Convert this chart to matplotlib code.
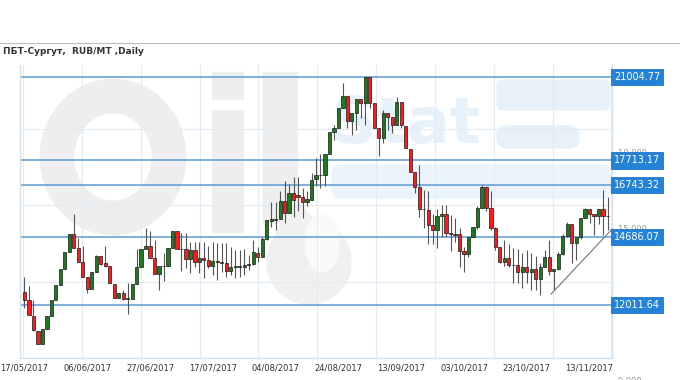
import numpy as np
import matplotlib
matplotlib.use("Agg")
import matplotlib.pyplot as plt
import matplotlib.transforms as mtransforms
from matplotlib.patches import Ellipse, Rectangle, FancyBboxPatch, Polygon

# daily candles, RUB/MT, 17/05/2017 .. 17/11/2017
opens = [12513, 12223, 11591, 10998, 10485, 11064, 11591, 12223, 12802, 13435,
         14119, 14804, 14264, 13711, 13105, 12644, 13303, 13935, 13672, 13566,
         12855, 12276, 12487, 12263, 12263, 12855, 13514, 14225, 14357, 13869,
         13250, 13540, 13566, 14264, 14949, 14238, 14208, 13830, 14198, 13725,
         13880, 13780, 13540, 13750, 13690, 13680, 13366, 13524, 13550, 13524,
         13603, 13610, 14076, 13918, 14602, 15338, 15391, 15391, 16127, 15654,
         16442, 16350, 16285, 16087, 16153, 16968, 17139, 17139, 17954, 18848,
         19006, 19795, 20255, 19282, 19571, 20124, 19966, 20991, 19966, 18980,
         18585, 19571, 19440, 19111, 20032, 19072, 18152, 17271, 16668, 15800,
         15774, 15182, 14984, 15537, 15603, 14853, 14814, 14814, 14156, 14025,
         14696, 15090, 15839, 16654, 15839, 15050, 14288, 13710, 13867, 13578,
         13578, 13315, 13512, 13302, 13447, 13039, 13512, 13907, 13341, 13433,
         14038, 14748, 15221, 14459, 14696, 15445, 15800, 15603, 15537, 15800,
         15537]
highs = [13119, 12750, 12223, 10998, 11064, 11591, 12223, 12802, 13435, 14119,
         14804, 15581, 14659, 14357, 13105, 13303, 14000, 13935, 14330, 13566,
         12855, 12487, 12600, 12882, 12855, 14225, 14225, 15055, 14923, 14567,
         13540, 14067, 14264, 14949, 14949, 14857, 14840, 14510, 14510, 14510,
         14510, 14339, 14510, 14444, 14444, 14444, 14300, 14181, 14181, 14208,
         14000, 14575, 14300, 14700, 15364, 16087, 16087, 16500, 16916, 16784,
         17073, 17073, 16613, 16500, 17200, 17797, 17954, 17954, 18848, 19100,
         19800, 20781, 20255, 19571, 20124, 20124, 20991, 20991, 19966, 18980,
         19700, 19571, 19440, 20229, 20032, 19072, 18152, 17271, 17548, 16562,
         16497, 15600, 15800, 15971, 15971, 15576, 15445, 15050, 14300, 14696,
         15090, 15900, 16760, 16700, 16497, 15100, 14300, 14590, 14400, 14262,
         14222, 14050, 14200, 14050, 13933, 13670, 14196, 14590, 13433, 14100,
         14800, 15300, 15221, 14696, 15445, 15850, 15800, 15603, 15800, 16547,
         16284]
lows = [11894, 11600, 11000, 10458, 10485, 11064, 11591, 12223, 12802, 13435,
        14119, 14264, 13711, 13105, 12500, 12644, 13303, 13600, 13500, 12882,
        12276, 12276, 12200, 11670, 12263, 12855, 13514, 14225, 13869, 13250,
        12592, 12947, 13540, 14264, 14238, 13343, 13458, 13261, 13500, 13261,
        13064, 13458, 13195, 12998, 13300, 13100, 13195, 13064, 13100, 13200,
        13400, 13600, 13700, 13918, 14575, 15100, 14970, 15391, 15259, 15654,
        15496, 15700, 15430, 15900, 16153, 16700, 16613, 16700, 17954, 18500,
        19006, 19795, 19000, 18700, 18900, 19400, 19111, 19800, 18980, 17900,
        18400, 18900, 18800, 19111, 19000, 18191, 17271, 16431, 15500, 15050,
        14400, 14420, 14262, 14700, 14700, 14130, 14500, 13500, 13302, 13900,
        14696, 15000, 15839, 15700, 14950, 14200, 13650, 13565, 13500, 12881,
        12881, 12700, 12881, 12618, 12618, 12421, 13512, 13200, 12618, 13400,
        14000, 14700, 13655, 13775, 14600, 15445, 15233, 14773, 15200, 14772,
        14970]
closes = [12223, 11617, 11011, 10485, 11064, 11591, 12223, 12802, 13435, 14119,
          14804, 14264, 13711, 13105, 12644, 13303, 13935, 13645, 13540, 12882,
          12276, 12487, 12249, 12289, 12855, 13514, 14225, 14357, 13869, 13250,
          13540, 13566, 14264, 14949, 14238, 14208, 13830, 14198, 13725, 13880,
          13800, 13540, 13750, 13690, 13680, 13366, 13524, 13530, 13524, 13603,
          13610, 14115, 13918, 14602, 15364, 15391, 15380, 16127, 15654, 16442,
          16153, 16285, 16087, 16180, 16942, 17139, 17130, 17954, 18848, 19006,
          19795, 20255, 19282, 19571, 20124, 19966, 20991, 19966, 18980, 18585,
          19571, 19440, 19111, 20032, 19111, 18191, 17271, 16679, 15800, 15780,
          15182, 14984, 15537, 15603, 14853, 14814, 14787, 14156, 14025, 14696,
          15090, 15839, 16654, 15839, 15050, 14288, 13710, 13867, 13578, 13570,
          13315, 13512, 13302, 13447, 13039, 13512, 13907, 13341, 13433, 14038,
          14748, 15221, 14459, 14696, 15445, 15800, 15603, 15537, 15800, 15537,
          15522]

date_labels = ["17/05/2017", "06/06/2017", "27/06/2017", "17/07/2017", "04/08/2017",
               "24/08/2017", "13/09/2017", "03/10/2017", "23/10/2017", "13/11/2017"]
label_step = 14

levels = [21004.77, 17713.17, 16743.32, 14686.07, 12011.64]
price_ticks = [9000, 12000, 15000, 18000, 21000]

trend_x = [117.4, 131.0]
trend_y = [12440, 15000]

title = "ПБТ-Сургут,  RUB/MT ,Daily"

opens = np.array(opens, float)
closes = np.array(closes, float)
highs = np.array(highs, float)
lows = np.array(lows, float)
idx = np.arange(len(opens))

fig = plt.figure(figsize=(6.8, 3.8), dpi=100)
fig.patch.set_facecolor("white")

# background layer in pixel coordinates: watermark, title
bg = fig.add_axes([0, 0, 1, 1], zorder=0)
bg.set_xlim(0, 680)
bg.set_ylim(380, 0)
bg.axis("off")

wm = "#eeeeee"
bg.add_patch(Ellipse((113, 157), 112, 122, fill=False, ec=wm, lw=25))
bg.add_patch(Rectangle((212, 72), 31, 27, color=wm))
bg.add_patch(Rectangle((212, 110), 31, 122, color=wm))
bg.add_patch(Rectangle((263, 72), 34, 150, color=wm))
# oil drop under the "l"
bg.add_patch(Polygon([(267, 258), (292, 196), (350, 258)], closed=True, color="#f0f0f0"))
bg.add_patch(Ellipse((309, 262), 84, 84, color="#f0f0f0"))
bg.add_patch(Ellipse((322, 243), 34, 58, color="#fafafa"))
bg.text(330, 143, "Stat", fontsize=46, fontweight="bold", color="#e7f1fa", va="baseline")
bg.add_patch(FancyBboxPatch((497, 80), 113, 30, boxstyle="round,pad=0,rounding_size=6", color="#e7f1fa"))
bg.add_patch(FancyBboxPatch((497, 126), 82, 22, boxstyle="round,pad=0,rounding_size=10", color="#e7f1fa"))
bg.add_patch(FancyBboxPatch((332, 165), 280, 33, boxstyle="round,pad=0,rounding_size=10", color="#ebf4fb"))

bg.plot([0, 680], [43, 43], color="#bdbdbd", lw=0.8)
bg.text(3, 51, title, fontsize=6.5, fontweight="bold", color="#333333", va="center", ha="left")

# chart
ax = fig.add_axes([20 / 680, 22 / 380, 592 / 680, 293 / 380], zorder=1)
ax.patch.set_alpha(0)
ax.set_xlim(-1.0, 131.0)
ax.set_ylim(9921, 21477)

grid_c = "#e2ecf6"
for k in range(11):
    ax.axvline(-0.33 + 13.12 * k, color=grid_c, lw=0.8, zorder=1)
for gy in (12920, 15950, 18960):
    ax.axhline(gy, color=grid_c, lw=0.8, zorder=1)

for v in levels:
    ax.axhline(v, color="#5b9bd5", lw=1.1, zorder=2)

up = closes >= opens
ax.vlines(idx, lows, highs, color="#555555", lw=0.8, zorder=3)
ax.bar(idx, np.abs(closes - opens), bottom=np.minimum(opens, closes), width=0.72,
       color=np.where(up, "#1f7a1f", "#ff1a1a"), edgecolor="#1a1a1a", lw=0.5, zorder=4)

ax.plot(trend_x, trend_y, color="#777777", lw=0.8, zorder=5, clip_on=False)

ax.set_xticks(idx[::label_step])
ax.set_xticklabels(date_labels, fontsize=6, color="#333333")
ax.tick_params(axis="x", length=0, pad=4)
ax.set_yticks([])

for side in ("left", "bottom", "right"):
    ax.spines[side].set_color("#d3e2f0")
    ax.spines[side].set_linewidth(1.0)
ax.spines["top"].set_visible(False)

trans = mtransforms.blended_transform_factory(ax.transAxes, ax.transData)
for p in price_ticks:
    ax.text(1.010, p, f"{p:,}".replace(",", " "), transform=trans, fontsize=6,
            color="#9a9a9a", va="center", ha="left", clip_on=False, zorder=6)
for v in levels:
    ax.text(1.0035, v, f"{v:.2f}", transform=trans, fontsize=7, color="white",
            va="center", ha="left", clip_on=False, zorder=7,
            bbox=dict(boxstyle="square,pad=0.32", fc="#2482d8", ec="#1f74c4", lw=0.6))

fig.savefig("out.png", dpi=100)
